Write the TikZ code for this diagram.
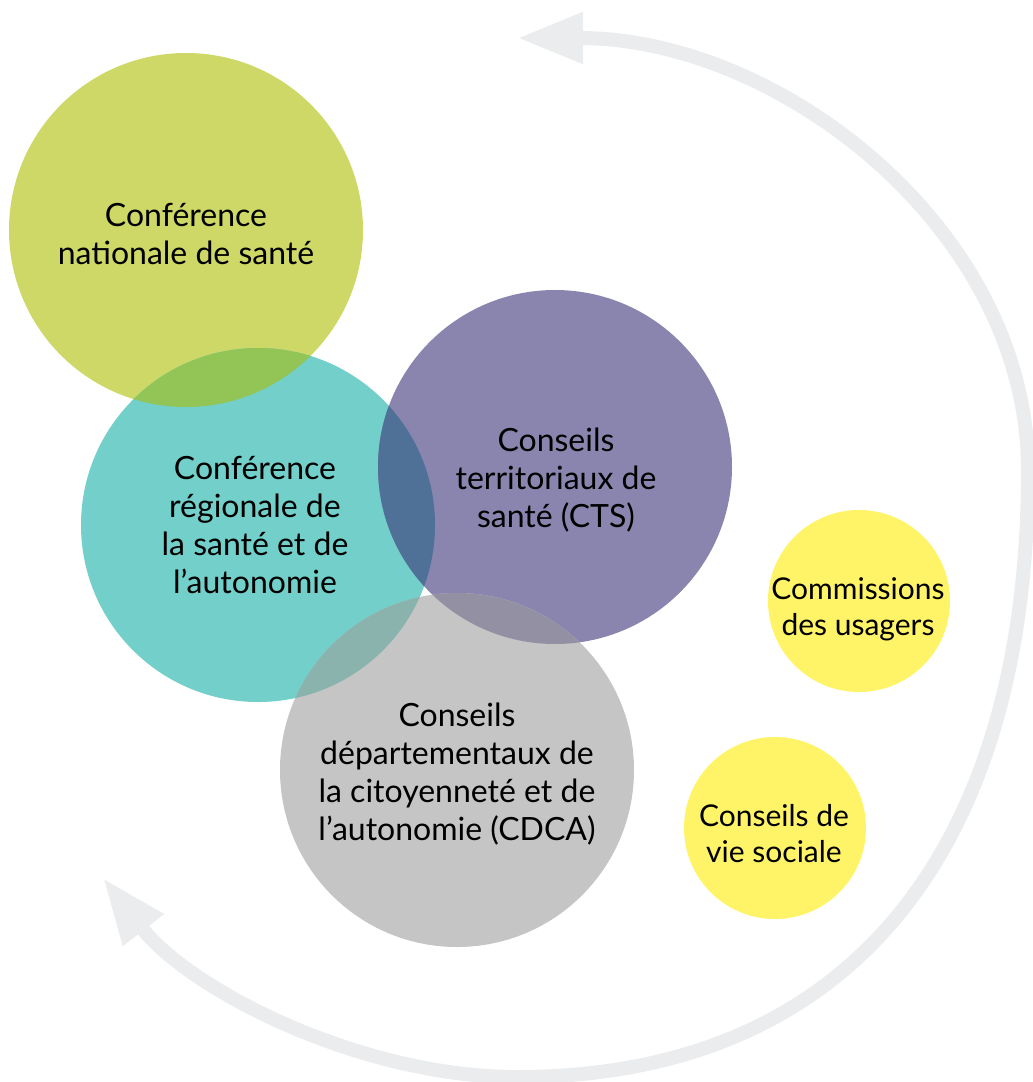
\documentclass[tikz,border=0pt]{standalone}
\usepackage{fontspec}
\setmainfont{Lato}
\usetikzlibrary{arrows.meta}

\definecolor{natgreen}{HTML}{CDD867}
\definecolor{regteal}{HTML}{72CFC9}
\definecolor{terpurple}{HTML}{8985AE}
\definecolor{depgrey}{HTML}{C4C5C4}
\definecolor{usyellow}{HTML}{FFF367}
\definecolor{arcgrey}{HTML}{EBECEE}
% overlap colours
\definecolor{greenteal}{HTML}{92C556}
\definecolor{tealpurple}{HTML}{4F7097}
\definecolor{tealgrey}{HTML}{8AB3AE}
\definecolor{purplegrey}{HTML}{9490A3}

\begin{document}
\begin{tikzpicture}[x=0.5pt,y=-0.5pt,
    bigtext/.style={align=center, inner sep=0pt, font=\fontsize{16}{19}\selectfont},
    smalltext/.style={align=center, inner sep=0pt, font=\fontsize{15}{18}\selectfont},
    cyclearrow/.style={draw=arcgrey, line width=7pt,
        {Triangle[length=33pt,width=24pt]}-{Triangle[length=33pt,width=24pt]}}]
    \useasboundingbox (0,0) rectangle (1033,1082);

    % Circle centres
    \coordinate (cns) at (186,230);
    \coordinate (crsa) at (258,525);
    \coordinate (cts) at (555,467);
    \coordinate (cdca) at (457,770);
    \coordinate (cdu) at (859,601);
    \coordinate (cvs) at (775,828);

    % Big circles
    \fill[natgreen] (cns) circle[radius=177];
    \fill[regteal] (crsa) circle[radius=177];
    \fill[terpurple] (cts) circle[radius=177];
    \fill[depgrey] (cdca) circle[radius=177];

    % Overlaps
    \begin{scope}
        \clip (cns) circle[radius=177];
        \fill[greenteal] (crsa) circle[radius=177];
    \end{scope}
    \begin{scope}
        \clip (crsa) circle[radius=177];
        \fill[tealpurple] (cts) circle[radius=177];
    \end{scope}
    \begin{scope}
        \clip (crsa) circle[radius=177];
        \fill[tealgrey] (cdca) circle[radius=177];
    \end{scope}
    \begin{scope}
        \clip (cts) circle[radius=177];
        \fill[purplegrey] (cdca) circle[radius=177];
    \end{scope}

    % Small circles
    \fill[usyellow] (cdu) circle[radius=91];
    \fill[usyellow] (cvs) circle[radius=91];

    % Labels
    \node[bigtext] (cnsText) at (186,234) {Conférence\\nationale de santé};
    \node[bigtext] (crsaText) at (255,525) {Conférence\\régionale de\\la santé et de\\l’autonomie};
    \node[bigtext] (ctsText) at (556,480) {Conseils\\territoriaux de\\santé (CTS)};
    \node[bigtext] (cdcaText) at (457,774) {Conseils\\départementaux de\\la citoyenneté et de\\l’autonomie (CDCA)};
    \node[smalltext] (cduText) at (858,609) {Commissions\\des usagers};
    \node[smalltext] (cvsText) at (774,834) {Conseils de\\vie sociale};

    % Cycle arrow
    \coordinate (topTip) at (517,38);
    \coordinate (rightPt) at (1028,470);
    \coordinate (bottomPt) at (517,1077);
    \coordinate (leftTip) at (103,878);
    \draw[cyclearrow] (topTip) .. controls (780,38) and (1028,230) .. (rightPt)
        .. controls (1028,850) and (850,1077) .. (bottomPt)
        .. controls (360,1077) and (190,990) .. (leftTip);
\end{tikzpicture}
\end{document}
